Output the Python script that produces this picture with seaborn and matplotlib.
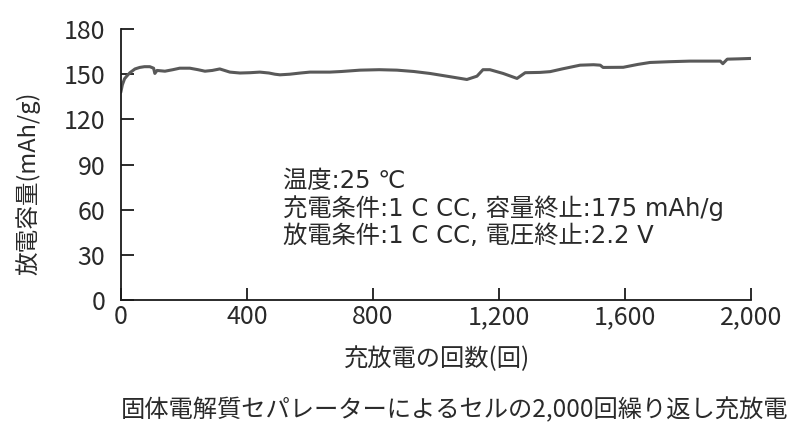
import matplotlib
matplotlib.use("Agg")
import matplotlib.pyplot as plt
import seaborn as sns
import pandas as pd

# 読み取り値（サイクル数, 放電容量 mAh/g）
cycles = [0, 5, 12, 20, 29, 45, 60, 75, 92, 104, 108, 115, 140, 165, 187, 219,
          245, 267, 290, 314, 346, 378, 410, 441, 470, 489, 505, 536, 570, 600,
          663, 700, 759, 820, 876, 930, 981, 1040, 1098, 1130, 1149, 1171, 1213,
          1257, 1283, 1330, 1362, 1400, 1457, 1500, 1521, 1530, 1594, 1640, 1679,
          1740, 1806, 1860, 1902, 1910, 1924, 1960, 2003]
capacity = [138, 143, 147, 149, 151, 153.5, 154.5, 155, 155, 154, 150.5, 152.5, 152,
            153, 154, 154, 153, 152, 152.5, 153.5, 151.4, 150.8, 151, 151.4, 150.8,
            150, 149.6, 150, 150.8, 151.4, 151.4, 151.8, 152.7, 153, 152.7, 151.8,
            150.5, 148.5, 146.5, 148.7, 153, 153, 150.5, 147.2, 151, 151.2, 151.7,
            153.5, 156, 156.3, 156, 154.5, 154.6, 156.5, 157.8, 158.3, 158.7, 158.7,
            158.7, 157, 160, 160.2, 160.5]

x_ticks = [0, 400, 800, 1200, 1600, 2000]
x_tick_labels = ["0", "400", "800", "1,200", "1,600", "2,000"]
y_ticks = [0, 30, 60, 90, 120, 150, 180]

conditions = ["温度:25 ℃",
              "充電条件:1 C CC, 容量終止:175 mAh/g",
              "放電条件:1 C CC, 電圧終止:2.2 V"]
caption = "固体電解質セパレーターによるセルの2,000回繰り返し充放電"

sns.set_theme(style="ticks")
plt.rcParams['font.family'] = ['Noto Sans CJK JP', 'DejaVu Sans']
wide_latin = ['DejaVu Sans', 'Noto Sans CJK JP']
txt = "#2a2a2a"

df = pd.DataFrame({"cycle": cycles, "capacity": capacity})

fig = plt.figure(figsize=(8, 4.4), dpi=100)
ax = fig.add_axes([0.151, 0.318, 0.788, 0.616])

sns.lineplot(data=df, x="cycle", y="capacity", color="#595959", linewidth=2.2, ax=ax)

ax.set_xlim(0, 2000)
ax.set_ylim(0, 180)
ax.set_xticks(x_ticks)
ax.set_xticklabels(x_tick_labels)
ax.set_yticks(y_ticks)
ax.tick_params(axis="both", direction="in", length=9, width=1.3, colors="#1a1a1a",
               labelcolor=txt, labelsize=18)
ax.tick_params(axis="y", pad=11)
ax.tick_params(axis="x", pad=3)

for side in ["top", "right"]:
    ax.spines[side].set_visible(False)
for side in ["left", "bottom"]:
    ax.spines[side].set_linewidth(1.3)
    ax.spines[side].set_color("#1a1a1a")

ax.set_xlabel("充放電の回数(回)", fontsize=17.5, color=txt)
ax.xaxis.set_label_coords(0.502, -0.17)
ax.set_ylabel("放電容量(mAh/g)", fontsize=17, color=txt)
ax.yaxis.set_label_coords(-0.128, 0.43)

for i, line in enumerate(conditions):
    ax.text(0.257, [0.438, 0.34, 0.238][i], line, transform=ax.transAxes,
            fontsize=17.5, color=txt, va="center", ha="left", family=wide_latin)

fig.text(0.568, 0.068, caption, fontsize=17.5, color=txt, ha="center", va="center")

fig.savefig("out.png", dpi=100, facecolor="white")
